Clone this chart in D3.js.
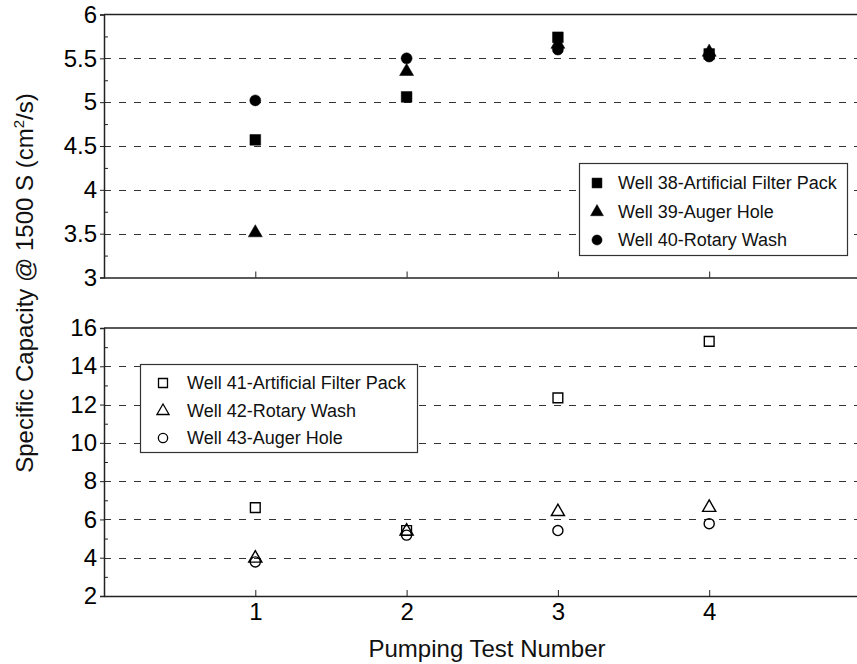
<!DOCTYPE html>
<html>
<head>
<meta charset="utf-8">
<script src="https://cdn.jsdelivr.net/npm/d3@7"></script>
<style>
  html, body { margin: 0; padding: 0; background: #fff; }
  svg { display: block; font-family: "Liberation Sans", Arial, sans-serif; }
</style>
</head>
<body>
<svg id="chart" width="857" height="664"></svg>
<script>
// ---------- data ----------
const tests = [1, 2, 3, 4];

// top panel (filled markers)
const topSeriesNames = ["Well 38-Artificial Filter Pack", "Well 39-Auger Hole", "Well 40-Rotary Wash"];
const well38 = [4.57, 5.06, 5.74, 5.55];
const well39 = [3.51, 5.35, 5.66, 5.57];
const well40 = [5.02, 5.50, 5.60, 5.52];

// bottom panel (open markers)
const botSeriesNames = ["Well 41-Artificial Filter Pack", "Well 42-Rotary Wash", "Well 43-Auger Hole"];
const well41 = [6.62, 5.42, 12.35, 15.30];
const well42 = [3.97, 5.38, 6.40, 6.62];
const well43 = [3.78, 5.18, 5.42, 5.78];

const topTicks = [3, 3.5, 4, 4.5, 5, 5.5, 6];
const topTickLabels = ["3", "3.5", "4", "4.5", "5", "5.5", "6"];
const botTicks = [2, 4, 6, 8, 10, 12, 14, 16];
const botTickLabels = ["2", "4", "6", "8", "10", "12", "14", "16"];
const xTicks = [1, 2, 3, 4];
const xTickLabels = ["1", "2", "3", "4"];

const xTitle = "Pumping Test Number";

// ---------- layout ----------
const svg = d3.select("#chart");
const x = d3.scaleLinear().domain([0, 5]).range([104, 860.5]);
const yTop = d3.scaleLinear().domain([3, 6]).range([277.5, 14.5]);
const yBot = d3.scaleLinear().domain([2, 16]).range([596, 328]);

const frameColor = "#222";
const tickFont = 24;

function panel(y, ticks, labels, minorStep, showXLabels) {
  const g = svg.append("g");
  const [x0, x1] = x.range();
  const [yb, yt] = y.range();
  const [d0, d1] = y.domain();

  // gridlines
  g.selectAll("line.grid")
    .data(ticks.filter(t => t > d0 && t < d1))
    .enter().append("line")
    .attr("x1", x0).attr("x2", x1)
    .attr("y1", d => Math.round(y(d)) + 0.5).attr("y2", d => Math.round(y(d)) + 0.5)
    .attr("stroke", "#333").attr("stroke-width", 1)
    .attr("stroke-dasharray", "7,8");

  // minor ticks (inward)
  const minor = d3.range(d0, d1 + 1e-9, minorStep).filter(v => !ticks.some(t => Math.abs(t - v) < 1e-9));
  const minorAxis = d3.axisRight(y).tickValues(minor).tickSize(4).tickFormat("");
  g.append("g").attr("transform", `translate(${x0},0)`).call(minorAxis)
    .call(s => s.select(".domain").remove())
    .selectAll("line").attr("stroke", frameColor);

  // major y axis
  const yAxis = d3.axisLeft(y).tickValues(ticks).tickSize(4).tickPadding(3)
    .tickFormat((d, i) => labels[i]);
  const ya = g.append("g").attr("transform", `translate(${x0},0)`).call(yAxis);
  ya.select(".domain").attr("stroke", frameColor).attr("stroke-width", 1.5);
  ya.selectAll("line").attr("stroke", frameColor);
  ya.selectAll("text").attr("font-size", tickFont).attr("fill", "#000")
    .attr("font-family", "'Liberation Sans', Arial, sans-serif");

  // top frame
  g.append("line").attr("x1", x0).attr("x2", x1).attr("y1", yt).attr("y2", yt)
    .attr("stroke", frameColor).attr("stroke-width", 1.5);

  // x axis (bottom)
  const xAxis = d3.axisBottom(x).tickValues(xTicks).tickSizeInner(-6).tickSizeOuter(0).tickPadding(7)
    .tickFormat((d, i) => showXLabels ? xTickLabels[i] : "");
  const xa = g.append("g").attr("transform", `translate(0,${yb})`).call(xAxis);
  xa.select(".domain").attr("stroke", frameColor).attr("stroke-width", 1.5);
  xa.selectAll("line").attr("stroke", frameColor);
  xa.selectAll("text").attr("font-size", tickFont).attr("fill", "#000")
    .attr("font-family", "'Liberation Sans', Arial, sans-serif");
  return g;
}

const gTop = panel(yTop, topTicks, topTickLabels, 0.25, false);
const gBot = panel(yBot, botTicks, botTickLabels, 1, true);

// ---------- markers ----------
const symSquare = d3.symbol().type(d3.symbolSquare);
const symTri = d3.symbol().type(d3.symbolTriangle);
const symCircle = d3.symbol().type(d3.symbolCircle);

const topStyles = [
  { sym: symSquare, size: 115 },
  { sym: symTri, size: 85 },
  { sym: symCircle, size: 95 }
];
const botStyles = [
  { sym: symSquare, size: 95 },
  { sym: symTri, size: 75 },
  { sym: symCircle, size: 80 }
];

function drawSeries(g, y, values, style, filled) {
  g.append("g").selectAll("path")
    .data(values.map((v, i) => ({ t: tests[i], v })))
    .enter().append("path")
    .attr("d", style.sym.size(style.size)())
    .attr("transform", d => `translate(${x(d.t)},${y(d.v)})`)
    .attr("fill", filled ? "#000" : "none")
    .attr("stroke", "#000")
    .attr("stroke-width", filled ? 0.5 : 1.4);
}

[well38, well39, well40].forEach((s, i) => drawSeries(gTop, yTop, s, topStyles[i], true));
[well41, well42, well43].forEach((s, i) => drawSeries(gBot, yBot, s, botStyles[i], false));

// ---------- legends ----------
function legend(box, names, styles, filled, markerX, textX, rows) {
  const g = svg.append("g");
  g.append("rect").attr("x", box.x + 0.5).attr("y", box.y + 0.5)
    .attr("width", box.w).attr("height", box.h)
    .attr("fill", "#fff").attr("stroke", "#333").attr("stroke-width", 1.2);
  names.forEach((n, i) => {
    g.append("path")
      .attr("d", styles[i].sym.size(styles[i].size * 0.85)())
      .attr("transform", `translate(${markerX},${rows[i]})`)
      .attr("fill", filled ? "#000" : "none")
      .attr("stroke", "#000").attr("stroke-width", filled ? 0.5 : 1.3);
    g.append("text").attr("x", textX).attr("y", rows[i]).attr("dy", "0.35em")
      .attr("font-size", 18).attr("fill", "#111").text(n);
  });
}
legend({ x: 579, y: 163, w: 268, h: 92 }, topSeriesNames, topStyles, true, 597, 618, [183, 212, 240]);
legend({ x: 140, y: 364, w: 277, h: 88 }, botSeriesNames, botStyles, false, 163, 187, [383, 411, 438]);

// ---------- titles ----------
svg.append("text").attr("x", 487).attr("y", 657).attr("text-anchor", "middle")
  .attr("font-size", 24).attr("fill", "#111").text(xTitle);

const yt = svg.append("text")
  .attr("transform", "translate(33,283) rotate(-90)")
  .attr("text-anchor", "middle").attr("font-size", 24).attr("fill", "#111");
yt.append("tspan").text("Specific Capacity @ 1500 S (cm");
yt.append("tspan").attr("font-size", 15).attr("dy", -9).text("2");
yt.append("tspan").attr("dy", 9).text("/s)");
</script>
</body>
</html>
